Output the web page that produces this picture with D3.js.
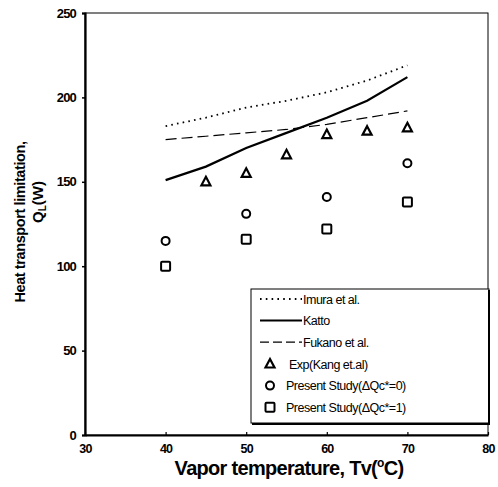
<!DOCTYPE html>
<html>
<head>
<meta charset="utf-8">
<script src="https://cdn.jsdelivr.net/npm/d3@7"></script>
<style>
  body { margin: 0; background: #fff; }
  svg text { font-family: "Liberation Sans", Arial, sans-serif; fill: #000; }
</style>
</head>
<body>
<div id="chart"></div>
<script>
// calculated curves
const lineTemps = [40, 45, 50, 55, 60, 65, 70];
const imura = [183, 188, 194, 198, 203, 210, 219];
const katto = [151, 159, 170, 179, 188, 198, 212];
const fukano = [175, 177, 179, 181, 184, 188, 192];

// measured / present study
const expTemps = [45, 50, 55, 60, 65, 70];
const expKang = [150, 155, 166, 178, 180, 182];
const studyTemps = [40, 50, 60, 70];
const study0 = [115, 131, 141, 161];
const study1 = [100, 116, 122, 138];

const xTicks = [30, 40, 50, 60, 70, 80];
const yTicks = [0, 50, 100, 150, 200, 250];

const W = 498, H = 487;
const margin = {top: 13, right: 10, bottom: 52, left: 85};

const svg = d3.select('#chart').append('svg')
    .attr('width', W).attr('height', H);
svg.append('rect').attr('width', W).attr('height', H).attr('fill', '#fff');

const x = d3.scaleLinear().domain([30, 80]).range([margin.left, W - margin.right]);
const y = d3.scaleLinear().domain([0, 250]).range([H - margin.bottom, margin.top]);

// plot frame
svg.append('rect')
    .attr('x', x(30)).attr('y', y(250))
    .attr('width', x(80) - x(30)).attr('height', y(0) - y(250))
    .attr('fill', 'none').attr('stroke', '#000').attr('stroke-width', 1);

// y axis
const yAxis = svg.append('g')
    .attr('transform', 'translate(' + x(30) + ',0)')
    .call(d3.axisLeft(y).tickValues(yTicks).tickSize(3).tickPadding(6));
yAxis.select('.domain').attr('stroke-width', 2.2);
yAxis.selectAll('.tick line').attr('stroke-width', 1.5);
yAxis.selectAll('text').attr('font-size', 13).attr('font-weight', 'bold')
    .style('letter-spacing', '-0.8px');

// x axis, ticks inward
const xAxis = svg.append('g')
    .attr('transform', 'translate(0,' + y(0) + ')')
    .call(d3.axisBottom(x).tickValues(xTicks).tickSizeInner(-3).tickSizeOuter(0).tickPadding(9));
xAxis.select('.domain').attr('stroke-width', 2.2);
xAxis.selectAll('.tick line').attr('stroke-width', 1.2);
xAxis.selectAll('text').attr('font-size', 12.5).attr('font-weight', 'bold')
    .style('letter-spacing', '-0.8px');

// axis titles
const xt = svg.append('text')
    .attr('x', 289).attr('y', 475)
    .attr('text-anchor', 'middle')
    .attr('font-size', 20).attr('font-weight', 'bold')
    .style('letter-spacing', '-0.7px');
xt.append('tspan').text('Vapor temperature, Tv(');
xt.append('tspan').attr('font-size', 12).attr('dy', -8).text('o');
xt.append('tspan').attr('dy', 8).text('C)');

const yt = svg.append('g').attr('transform', 'translate(25,222) rotate(-90)');
yt.append('text').attr('text-anchor', 'middle')
    .attr('font-size', 14.5).attr('font-weight', 'bold')
    .style('letter-spacing', '-0.4px')
    .text('Heat transport limitation,');
const q = yt.append('text').attr('x', 20).attr('y', 18).attr('text-anchor', 'middle')
    .attr('font-size', 15).attr('font-weight', 'bold');
q.append('tspan').text('Q');
q.append('tspan').attr('font-size', 10).attr('dy', 3).text('L');
q.append('tspan').attr('dy', -3).text('(W)');

// curves
const line = d3.line().x((d, i) => x(lineTemps[i])).y(d => y(d));
const lineStyles = [
    {data: imura, dash: '1.6,4.2', width: 1.8},
    {data: katto, dash: null, width: 2.2},
    {data: fukano, dash: '11,5', width: 1.2}
];
lineStyles.forEach(s => {
    svg.append('path').datum(s.data)
        .attr('d', line)
        .attr('fill', 'none').attr('stroke', '#000')
        .attr('stroke-width', s.width)
        .attr('stroke-dasharray', s.dash);
});

// marker helpers
function triangle(g, cx, cy) {
    g.append('path')
        .attr('d', 'M' + cx + ',' + (cy - 5) + 'L' + (cx + 4.5) + ',' + (cy + 3.5) + 'L' + (cx - 4.5) + ',' + (cy + 3.5) + 'Z')
        .attr('fill', 'none').attr('stroke', '#000').attr('stroke-width', 2.2)
        .attr('stroke-linejoin', 'miter');
}
function circle(g, cx, cy) {
    g.append('circle').attr('cx', cx).attr('cy', cy).attr('r', 4)
        .attr('fill', 'none').attr('stroke', '#000').attr('stroke-width', 2);
}
function square(g, cx, cy) {
    g.append('rect').attr('x', cx - 4.5).attr('y', cy - 4.5)
        .attr('width', 9).attr('height', 9).attr('rx', 1)
        .attr('fill', 'none').attr('stroke', '#000').attr('stroke-width', 2);
}

const marks = svg.append('g');
expKang.forEach((v, i) => triangle(marks, x(expTemps[i]), y(v)));
study0.forEach((v, i) => circle(marks, x(studyTemps[i]), y(v)));
study1.forEach((v, i) => square(marks, x(studyTemps[i]), y(v)));

// legend
const lg = svg.append('g');
lg.append('rect').attr('x', 251).attr('y', 289).attr('width', 238).attr('height', 134)
    .attr('fill', '#fff').attr('stroke', '#000').attr('stroke-width', 1);
lg.append('path').attr('d', 'M489,290V424H252')
    .attr('fill', 'none').attr('stroke', '#000').attr('stroke-width', 2);

const legendLines = [
    {label: 'Imura et al.', dash: '1.6,4.2', width: 1.8},
    {label: 'Katto', dash: null, width: 2},
    {label: 'Fukano et al.', dash: '9,4', width: 1.2}
];
legendLines.forEach((d, i) => {
    const ly = 299 + i * 21.6;
    lg.append('line').attr('x1', 260).attr('x2', 302).attr('y1', ly).attr('y2', ly)
        .attr('stroke', '#000').attr('stroke-width', d.width)
        .attr('stroke-dasharray', d.dash);
    lg.append('text').attr('x', 303).attr('y', ly + 4.5)
        .attr('font-size', 12.5).style('letter-spacing', '-0.5px')
        .text(d.label);
});
const legendMarks = [
    {label: '\u00a0Exp(Kang et.al)', draw: triangle},
    {label: 'Present Study(\u0394Qc*=0)', draw: circle},
    {label: 'Present Study(\u0394Qc*=1)', draw: square}
];
legendMarks.forEach((d, i) => {
    const ly = 364 + i * 21.6;
    d.draw(lg, 270, ly);
    lg.append('text').attr('x', 286).attr('y', ly + 4.5)
        .attr('font-size', 12.5).style('letter-spacing', '-0.5px')
        .text(d.label);
});
</script>
</body>
</html>
